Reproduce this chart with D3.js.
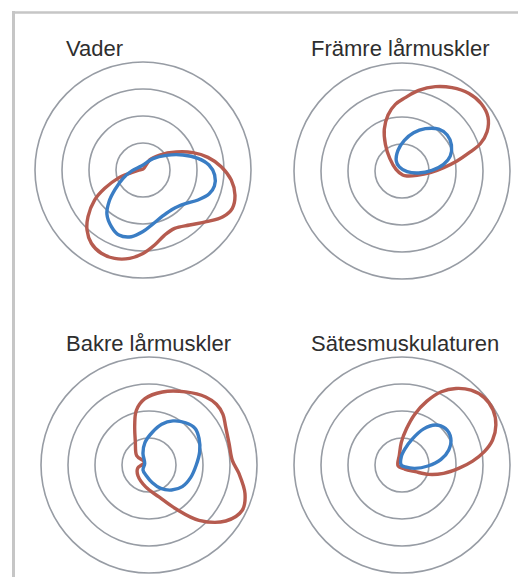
<!DOCTYPE html>
<html>
<head>
<meta charset="utf-8">
<script src="https://cdn.jsdelivr.net/npm/d3@7"></script>
<style>
  html, body { margin: 0; padding: 0; background: #ffffff; }
  svg { display: block; }
  text { font-family: "Liberation Sans", Arial, Helvetica, sans-serif; }
</style>
</head>
<body>
<svg id="chart" width="518" height="577"></svg>
<script>
// Muscle group titles
const muscles = ["Vader", "Främre lårmuskler", "Bakre lårmuskler", "Sätesmuskulaturen"];

// Ring levels of the polar grid
const ringLevels = [1, 2, 3, 4];

// Polar curves: [angle in degrees (0 = up, clockwise), radius in ring units]
const vaderRed = [[0,0.03],[33.7,0.45],[48.0,0.83],[61.6,1.40],[70.9,1.96],[79.0,2.45],[87.6,2.90],[96.5,3.29],[105.2,3.53],[113.2,3.60],[120.3,3.43],[129.2,3.03],[139.7,2.67],[151.5,2.46],[161.6,2.54],[171.2,2.81],[180,3.09],[188.6,3.31],[197.8,3.44],[206.6,3.45],[215.2,3.32],[223.0,3.04],[229.7,2.67],[238.2,2.11],[244.4,1.57],[251.6,0.98],[257.1,0.44],[270,0.15]];
const vaderBlue = [[337.4,0.16],[41.4,0.56],[57.8,1.02],[69.4,1.58],[78.0,2.08],[85.7,2.45],[94.0,2.66],[102.6,2.71],[110.0,2.60],[118.6,2.32],[129.2,1.99],[142.4,1.82],[156.3,1.85],[169.5,2.03],[180,2.28],[189.9,2.51],[200.3,2.57],[209.2,2.40],[219.3,2.11],[227.0,1.72],[234.8,1.28],[247.4,0.80],[266.4,0.40]];

const framreRed = [[170.5,0.15],[285.5,0.23],[315.8,0.65],[328.0,1.16],[337.0,1.68],[346.0,2.14],[354.3,2.48],[2.6,2.72],[11.7,3.05],[21.6,3.36],[31.0,3.60],[40.6,3.79],[49.7,3.85],[57.9,3.76],[65.2,3.47],[70.8,3.07],[74.8,2.58],[79.7,2.07],[85.4,1.55],[93.4,1.05],[106.1,0.58],[135,0.26]];
const framreBlue = [[330.5,0.43],[349.0,0.78],[4.4,1.14],[16.9,1.48],[28.9,1.79],[41.3,2.06],[51.5,2.14],[62.2,2.07],[72.8,1.87],[80.9,1.56],[88.7,1.11],[96.8,0.62],[97.6,0.19],[326.3,0.18]];

const bakreRed = [[299.7,0.20],[307.1,0.57],[329.6,1.00],[340.3,1.57],[347.0,2.08],[356.5,2.46],[10.4,2.75],[26.7,3.03],[39.8,3.28],[48.0,3.36],[55.6,3.32],[63.6,3.17],[75.1,3.07],[86.8,3.09],[95.5,3.35],[106.6,3.71],[115.9,3.84],[126.1,3.52],[137.9,2.76],[148.6,1.90],[162.6,1.24],[188.6,0.82],[225.9,0.57],[253.6,0.44]];
const bakreBlue = [[230.2,0.29],[194.0,0.41],[169.3,0.67],[153.4,0.97],[137.8,1.25],[123.0,1.47],[106.9,1.61],[90,1.75],[75.3,1.94],[61.9,2.10],[51.4,2.18],[40.9,2.07],[28.6,1.86],[17.3,1.58],[5.8,1.22],[350,0.85],[332.8,0.49],[291,0.17]];

const satesRed = [[260.5,0.15],[345.1,0.38],[358.3,0.84],[6.9,1.34],[14.0,1.93],[21.3,2.54],[28.2,3.08],[35.2,3.47],[42.7,3.77],[50.7,3.94],[58.9,3.94],[66.9,3.78],[74.6,3.48],[80.8,3.09],[86.8,2.62],[93.4,2.10],[101.3,1.57],[109.3,1.05],[116.6,0.55],[146.3,0.18]];
const satesBlue = [[270,0.03],[355.4,0.31],[11.3,0.63],[21.3,1.02],[31.0,1.56],[39.8,1.93],[49.8,2.10],[61.3,2.06],[72.2,1.82],[81.7,1.46],[92.2,0.96],[104.7,0.49],[121,0.14]];

const redCurves = [vaderRed, framreRed, bakreRed, satesRed];
const blueCurves = [vaderBlue, framreBlue, bakreBlue, satesBlue];

// Layout of the 2x2 panel grid
const panels = [
  { cx: 143, cy: 170, tx: 66,  ty: 56 },
  { cx: 402, cy: 171, tx: 311, ty: 56 },
  { cx: 149, cy: 465, tx: 66,  ty: 351 },
  { cx: 402, cy: 465, tx: 311, ty: 351 }
];

const colors = { red: "#b65b4f", blue: "#3a7dc4", ring: "#979ca4", text: "#2e2e2e", frame: "#c6c6c6" };

const svg = d3.select("#chart");

// Frame lines along the top and left edges
svg.append("line").attr("x1", 12).attr("x2", 518).attr("y1", 12.5).attr("y2", 12.5)
  .attr("stroke", colors.frame).attr("stroke-width", 2.5);
svg.append("line").attr("x1", 13.5).attr("x2", 13.5).attr("y1", 11).attr("y2", 577)
  .attr("stroke", colors.frame).attr("stroke-width", 3);

const r = d3.scaleLinear().domain([0, 4]).range([0, 108]);

const radial = d3.lineRadial()
  .angle(d => d[0] * Math.PI / 180)
  .radius(d => r(d[1]))
  .curve(d3.curveCatmullRomClosed.alpha(0.5));

panels.forEach((p, i) => {
  const g = svg.append("g").attr("transform", `translate(${p.cx},${p.cy})`);

  g.selectAll("circle.ring").data(ringLevels).join("circle")
    .attr("class", "ring")
    .attr("r", d => r(d))
    .attr("fill", "none")
    .attr("stroke", colors.ring)
    .attr("stroke-width", 1.6);

  g.append("path").datum(redCurves[i])
    .attr("d", radial)
    .attr("fill", "none")
    .attr("stroke", colors.red)
    .attr("stroke-width", 3.4)
    .attr("stroke-linejoin", "round");

  g.append("path").datum(blueCurves[i])
    .attr("d", radial)
    .attr("fill", "none")
    .attr("stroke", colors.blue)
    .attr("stroke-width", 3.4)
    .attr("stroke-linejoin", "round");

  svg.append("text")
    .attr("x", p.tx).attr("y", p.ty)
    .attr("font-size", 22)
    .attr("fill", colors.text)
    .text(muscles[i]);
});
</script>
</body>
</html>
